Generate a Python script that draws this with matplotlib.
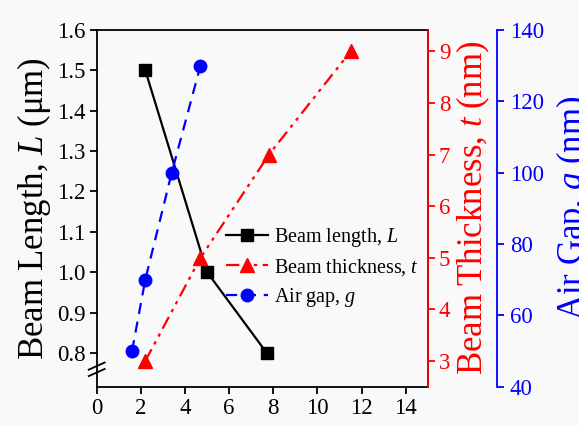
import matplotlib
matplotlib.use('Agg')
import matplotlib.pyplot as plt

plt.rcParams.update({
    'font.family': 'Liberation Serif',
    'mathtext.fontset': 'custom',
    'mathtext.rm': 'Liberation Serif',
    'mathtext.it': 'Liberation Serif:italic',
    'font.size': 14,
    'axes.linewidth': 1.3,
})

BG = '#f9f9f9'

# ─── Data ───────────────────────────────────────────────────
len_x = [2.2, 5.0, 7.7]
len_y = [1.5, 1.0, 0.8]          # Beam length, um

thk_x = [2.2, 4.7, 7.8, 11.5]
thk_y = [3, 5, 7, 9]             # Beam thickness, nm

gap_x = [1.6, 2.2, 3.4, 4.7]
gap_y = [50, 70, 100, 130]       # Air gap, nm

fig = plt.figure(figsize=(5.79, 4.26), dpi=100, facecolor=BG)
ax = fig.add_axes([0.167, 0.092, 0.572, 0.838], facecolor=BG)
ax2 = ax.twinx()
ax3 = ax.twinx()
ax3.spines['right'].set_position(('axes', 1.21))

l1, = ax.plot(len_x, len_y, '-', color='black', marker='s', markersize=8,
              linewidth=1.6, zorder=5, label='Beam length, $\\mathit{L}$')
l2, = ax2.plot(thk_x, thk_y, color='red', marker='^', markersize=10,
               linewidth=1.6, dashes=(6, 2.5, 1.5, 2.5, 1.5, 2.5),
               label='Beam thickness, $\\mathit{t}$')
l3, = ax3.plot(gap_x, gap_y, color='blue', marker='o', markersize=9,
               linewidth=1.6, dashes=(5, 3.5), label='Air gap, $\\mathit{g}$')

ax.set_xlim(0, 15)
ax.set_xticks(range(0, 15, 2))
ax.set_ylim(0.716, 1.6)
ax.set_yticks([0.8, 0.9, 1.0, 1.1, 1.2, 1.3, 1.4, 1.5, 1.6])
ax.set_yticklabels([f'{v:.1f}' for v in ax.get_yticks()])
ax2.set_ylim(2.5, 9.42)
ax2.set_yticks(range(3, 10))
ax3.set_ylim(40, 140)
ax3.set_yticks(range(40, 141, 20))

ax.set_ylabel('Beam Length, $\\mathit{L}$ (μm)', fontsize=25, labelpad=3)
ax2.set_ylabel('Beam Thickness, $\\mathit{t}$ (nm)', fontsize=25, color='red', labelpad=3)
ax3.set_ylabel('Air Gap, $\\mathit{g}$ (nm)', fontsize=25, color='blue', labelpad=7)

ax.tick_params(direction='out', length=5, width=1.3, labelsize=16.5, pad=3)
ax2.tick_params(axis='y', direction='out', length=5, width=1.3, labelsize=16.5,
                colors='red', pad=3)
ax3.tick_params(axis='y', direction='out', length=5, width=1.3, labelsize=16.5,
                colors='blue', pad=4)
ax2.spines['right'].set_color('red')
ax3.spines['right'].set_color('blue')
for a in (ax2, ax3):
    a.spines['left'].set_visible(False)
    a.spines['top'].set_visible(False)
    a.spines['bottom'].set_visible(False)

# axis break marks on left spine
kw = dict(transform=ax.transAxes, color='black', linewidth=1.3, clip_on=False)
for dy in (0.0, 0.018):
    ax.plot([-0.024, 0.024], [0.03 + dy, 0.05 + dy], **kw)

ax.legend(handles=[l1, l2, l3], loc='center left', bbox_to_anchor=(0.36, 0.335),
          frameon=False, fontsize=14.5, handlelength=2.1, handletextpad=0.3,
          labelspacing=0.4, borderpad=0)

fig.savefig('out.png', dpi=100, facecolor=BG)
